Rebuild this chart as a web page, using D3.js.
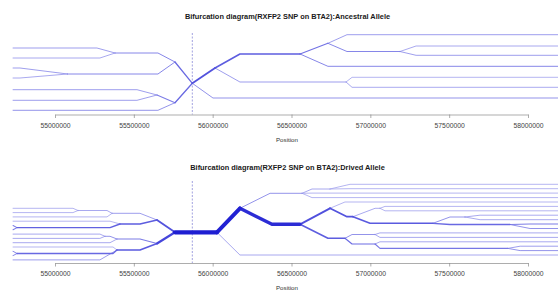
<!DOCTYPE html>
<html>
<head>
<meta charset="utf-8">
<script src="https://cdn.jsdelivr.net/npm/d3@7"></script>
<style>
  body { margin: 0; background: #fff; }
  svg { display: block; font-family: "Liberation Sans", Arial, sans-serif; }
</style>
</head>
<body>
<div id="graphe"></div>
<script>
// axe des positions (pb)
const positionTicks = [55000000, 55500000, 56000000, 56500000, 57000000, 57500000, 58000000];
const tickLabels = ["55000000", "55500000", "56000000", "56500000", "57000000", "57500000", "58000000"];
const snpPosition = 55871000;
const leftEdge = 54734000;
const rightEdge = 58200000;

const titles = [
  "Bifurcation diagram(RXFP2 SNP on BTA2):Ancestral Allele",
  "Bifurcation diagram(RXFP2 SNP on BTA2):Drived Allele"
];

// noeuds : [nom, parent, position atteinte, position de la bifurcation, niveau, nb haplotypes (feuilles)]
const ancestralLeft = [
  ["L1",  "root", 55761000, 55761000, 34,   null],
  ["L1a", "L1",   55653000, 55381000, 25,   null],
  ["a1",  "L1a",  55266000, null,     20,   3],
  ["a2",  "L1a",  55285000, null,     30,   2],
  ["L1b", "L1",   55653000, 55080000, 46,   null],
  ["a3",  "L1b",  54778000, null,     40,   3],
  ["a4",  "L1b",  54778000, null,     50,   2],
  ["L2",  "root", 55761000, 55761000, 74.7, null],
  ["L2a", "L2",   55647000, 55647000, 67,   null],
  ["a5",  "L2a",  55520000, null,     61.7, 3],
  ["a6",  "L2a",  55520000, null,     72.3, 3],
  ["a7",  "L2",   55653000, null,     82.3, 4]
];

const ancestralRight = [
  ["R1",    "root",  56015000, 56015000, 40,   null],
  ["R1a",   "R1",    56173000, 56554000, 26,   null],
  ["R1a1",  "R1a",   56731000, 56731000, 15.3, null],
  ["b1",    "R1a1",  56852000, null,     6.7,  3],
  ["R1a1b", "R1a1",  56852000, 57188000, 23.5, null],
  ["b2",    "R1a1b", 57290000, null,     18,   2],
  ["b3",    "R1a1b", 57290000, null,     27.3, 3],
  ["b4",    "R1a",   56731000, null,     38.3, 5],
  ["R1b",   "R1",    56173000, 56846000, 54,   null],
  ["b5",    "R1b",   56884000, null,     49.3, 1],
  ["b6",    "R1b",   56884000, null,     59.3, 2],
  ["b7",    "root",  56002000, null,     70,   4]
];

const derivedLeft = [
  ["U",   "root", 55647000, 55647000, 45,   null],
  ["U1",  "U",    55539000, 55362000, 38.3, null],
  ["U1a", "U1",   55330000, 55146000, 35.5, null],
  ["c1",  "U1a",  55114000, null,     33.3, 1],
  ["c2",  "U1a",  55114000, null,     37.6, 1],
  ["c3",  "U1",   55330000, null,     41.9, 1],
  ["U2",  "U",    55539000, 55412000, 49,   null],
  ["c4",  "U2",   55349000, null,     46.2, 1],
  ["U2b", "U2",   55349000, 54759000, 52.6, null],
  ["c5",  "U2b",  54734000, null,     50.5, 6],
  ["c6",  "U2b",  54734000, null,     54.8, 6],
  ["D",   "root", 55647000, 55647000, 68.5, null],
  ["D1",  "D",    55539000, 55393000, 64,   null],
  ["D1a", "D1",   55349000, 55317000, 61.3, null],
  ["c7",  "D1a",  55285000, null,     59.1, 2],
  ["c8",  "D1a",  55285000, null,     63.4, 2],
  ["c9",  "D1",   55349000, null,     67.7, 2],
  ["D2",  "D",    55539000, 55393000, 75,   null],
  ["c10", "D2",   55368000, null,     72,   1],
  ["D2b", "D2",   55368000, 54759000, 78.5, null],
  ["c11", "D2b",  54734000, null,     76.3, 5],
  ["c12", "D2b",  54734000, null,     80.6, 5],
  ["c13", "D2",   55285000, null,     84.9, 3]
];

const derivedRight = [
  ["RA",      "root",    56173000, 56173000, 33.3, null],
  ["RA1",     "RA",      56364000, 56567000, 18.3, null],
  ["RA1a",    "RA1",     56630000, 56744000, 14,   null],
  ["d1",      "RA1a",    56871000, null,     9.3,  1],
  ["d2",      "RA1a",    56871000, null,     13.7, 1],
  ["d3",      "RA1",     56630000, null,     18.1, 1],
  ["d4",      "RA1",     56630000, null,     22.6, 1],
  ["RA2",     "RA",      56376000, 56554000, 49.3, null],
  ["RA2a",    "RA2",     56744000, 56744000, 33.3, null],
  ["d5",      "RA2a",    56839000, null,     27,   1],
  ["RA2a2",   "RA2a",    56852000, 56890000, 41.7, null],
  ["RA2a2u",  "RA2a2",   57030000, 57061000, 33.3, null],
  ["d6",      "RA2a2u",  57093000, null,     31.4, 1],
  ["d7",      "RA2a2u",  57093000, null,     35.8, 1],
  ["RA2a2a",  "RA2a2",   56998000, 57397000, 48.3, null],
  ["RA2a2a1", "RA2a2a",  57505000, 57600000, 42,   null],
  ["d8",      "RA2a2a1", 57696000, null,     40.2, 2],
  ["d9",      "RA2a2a1", 57696000, null,     44.7, 2],
  ["RA2a2a2", "RA2a2a",  57505000, 57886000, 49.5, null],
  ["d10",     "RA2a2a2", 58013000, null,     49.1, 6],
  ["d11",     "RA2a2a2", 58013000, null,     53.5, 4],
  ["RA2b",    "RA2",     56731000, 56839000, 63.3, null],
  ["RA2b1",   "RA2b",    56884000, 57030000, 59.5, null],
  ["d12",     "RA2b1",   57061000, null,     57.9, 2],
  ["d13",     "RA2b1",   57061000, null,     62.4, 2],
  ["RA2b2",   "RA2b",    56884000, 57030000, 69,   null],
  ["d14",     "RA2b2",   57061000, null,     66.8, 2],
  ["RA2b2b",  "RA2b2",   57061000, 57873000, 73.4, null],
  ["d15",     "RA2b2b",  57950000, null,     71.2, 3],
  ["d16",     "RA2b2b",  57950000, null,     75.6, 4],
  ["d17",     "root",    56173000, null,     80,   2]
];

// coeur : [debut, fin, niveau] pour chaque panneau
const coreAncestral = [55871000, 55871000, 55.3];
const coreDerived = [55761000, 56027000, 57.3];

const W = 558, H = 291;
const svg = d3.select("#graphe").append("svg").attr("width", W).attr("height", H);

const x = d3.scaleLinear().domain([55000000, 58000000]).range([55, 528]);
const epaisseur = d3.scalePow().exponent(1.5).domain([1, 36]).range([0.8, 4.2]);
const couleur = d3.scalePow().exponent(0.5).domain([1, 36]).range(["#a2a2ee", "#1e1ed2"]);

const panneaux = [
  { titre: titles[0], gauche: ancestralLeft, droite: ancestralRight, coeur: coreAncestral,
    top: 28, axeY: 114.5, titreY: 19, dashTop: 33, labelY: 128.5, posY: 142 },
  { titre: titles[1], gauche: derivedLeft, droite: derivedRight, coeur: coreDerived,
    top: 175, axeY: 263, titreY: 169.5, dashTop: 181, labelY: 276.5, posY: 290 }
];

function branches(rows, rootPos, rootLevel, edge) {
  const noeuds = new Map();
  noeuds.set("root", { split: rootPos, level: rootLevel, n: 0 });
  rows.forEach(r => noeuds.set(r[0], {
    reach: r[2], split: r[3] === null ? edge : r[3], level: r[4], n: r[5] || 0
  }));
  // les enfants sont listés après leurs parents -> on remonte à l'envers
  rows.slice().reverse().forEach(r => { noeuds.get(r[1]).n += noeuds.get(r[0]).n; });
  return rows.map(r => {
    const c = noeuds.get(r[0]), p = noeuds.get(r[1]);
    return { n: c.n, pts: [[p.split, p.level], [c.reach, c.level], [c.split, c.level]] };
  });
}

panneaux.forEach(p => {
  const y = d3.scaleLinear().domain([0, 90]).range([p.top, p.top + 90]);
  const line = d3.line().x(d => x(d[0])).y(d => y(d[1]));
  const g = svg.append("g");

  // titre
  g.append("text")
    .attr("x", 287.5).attr("y", p.titreY)
    .attr("text-anchor", "middle")
    .attr("font-size", 7.4).attr("font-weight", "bold").attr("fill", "#1a1a1a")
    .text(p.titre);

  // ligne du SNP en pointillés
  g.append("line")
    .attr("x1", x(snpPosition)).attr("x2", x(snpPosition))
    .attr("y1", p.dashTop).attr("y2", p.axeY)
    .attr("stroke", "#8c8cd8").attr("stroke-width", 0.8)
    .attr("stroke-dasharray", "2,1.5");

  let liens = branches(p.gauche, p.coeur[0], p.coeur[2], leftEdge)
    .concat(branches(p.droite, p.coeur[1], p.coeur[2], rightEdge));
  const total = d3.sum(p.gauche, r => r[5] || 0);
  if (p.coeur[0] !== p.coeur[1])
    liens.push({ n: total, pts: [[p.coeur[0], p.coeur[2]], [p.coeur[1], p.coeur[2]]] });
  liens.sort((a, b) => a.n - b.n);

  g.selectAll("path.branche")
    .data(liens)
    .join("path")
    .attr("class", "branche")
    .attr("d", d => line(d.pts))
    .attr("fill", "none")
    .attr("stroke", d => couleur(d.n))
    .attr("stroke-width", d => epaisseur(d.n))
    .attr("stroke-linejoin", "round")
    .attr("stroke-linecap", "round");

  // axe
  const axe = g.append("g")
    .attr("transform", "translate(0," + p.axeY + ")")
    .call(d3.axisBottom(x).tickValues(positionTicks)
      .tickFormat((d, i) => tickLabels[i]).tickSize(3.5).tickSizeOuter(0).tickPadding(5));
  axe.select(".domain").attr("stroke", "#8a8a8a").attr("stroke-width", 0.7);
  axe.selectAll(".tick line").attr("stroke", "#8a8a8a").attr("stroke-width", 0.7);
  axe.selectAll(".tick text").attr("font-size", 6.8).attr("fill", "#444")
    .attr("font-family", "'Liberation Sans', Arial, sans-serif");
  axe.attr("font-family", null);

  g.append("text")
    .attr("x", 287).attr("y", p.posY)
    .attr("text-anchor", "middle")
    .attr("font-size", 6.2).attr("fill", "#333")
    .text("Position");
});
</script>
</body>
</html>
